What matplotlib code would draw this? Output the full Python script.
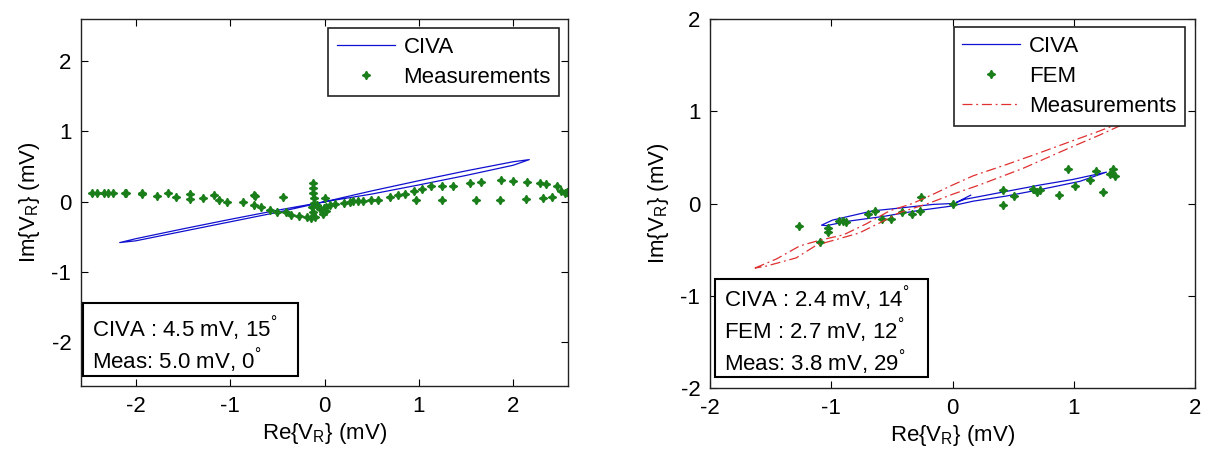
"""
两个 Lissajous 图: CIVA / FEM / 测量 的复数电压 V_R
"""
import matplotlib
matplotlib.use('Agg')
import matplotlib.pyplot as plt
from matplotlib.patches import Rectangle

plt.rcParams['font.family'] = ['Liberation Sans', 'DejaVu Sans']
plt.rcParams['mathtext.fontset'] = 'custom'
plt.rcParams['mathtext.rm'] = 'Liberation Sans'
plt.rcParams['mathtext.it'] = 'Liberation Sans:italic'
plt.rcParams['axes.unicode_minus'] = False

# ===== 数据: 左图 =====
civa1_re = [0.0, 0.5, 1.0, 1.5, 2.0, 2.17, 2.0, 1.5, 1.0, 0.5, 0.0,
            -0.5, -1.0, -1.5, -2.0, -2.17, -2.0, -1.5, -1.0, -0.5, 0.0]
civa1_im = [0.0, 0.155, 0.30, 0.44, 0.57, 0.6, 0.52, 0.375, 0.24, 0.11, 0.0,
            -0.12, -0.25, -0.385, -0.525, -0.58, -0.555, -0.42, -0.285, -0.15, 0.0]

meas1_re = [-2.46, -2.41, -2.34, -2.29, -2.24, -2.11, -2.10, -1.93, -1.93, -1.78,
            -1.66, -1.57, -1.43, -1.43, -1.29, -1.17, -1.12, -1.03, -0.86, -0.75,
            -0.75, -0.67, -0.74, -0.44, -0.58, -0.50, -0.41, -0.35, -0.27, -0.19,
            -0.14, -0.12, -0.12, -0.12, -0.11, -0.11, -0.13, -0.12, -0.10, -0.08,
            -0.05, -0.02, 0.02, -0.01, 0.0, 0.02, 0.06, 0.11, 0.21, 0.27,
            0.30, 0.35, 0.41, 0.49, 0.57, 0.69, 0.78, 0.85, 0.95, 1.03,
            1.13, 1.24, 1.36, 1.54, 1.66, 1.87, 2.00, 2.15, 2.28, 2.35,
            2.46, 2.51, 2.55, 2.57, 0.97, 1.24, 1.61, 1.86, 2.14, 2.31,
            2.41]
meas1_im = [0.13, 0.13, 0.13, 0.13, 0.12, 0.13, 0.12, 0.13, 0.11, 0.085,
            0.13, 0.066, 0.11, 0.045, 0.052, 0.10, 0.02, -0.01, 0.0, 0.10,
            -0.04, -0.07, 0.085, 0.07, -0.12, -0.15, -0.15, -0.19, -0.20, -0.21,
            -0.23, 0.27, 0.20, 0.13, 0.06, -0.02, -0.08, -0.15, -0.21, -0.05,
            -0.10, -0.18, -0.13, -0.09, 0.05, -0.07, -0.04, -0.03, -0.02, -0.01,
            0.005, 0.005, 0.005, 0.03, 0.03, 0.067, 0.095, 0.11, 0.15, 0.18,
            0.22, 0.22, 0.23, 0.27, 0.28, 0.31, 0.30, 0.28, 0.27, 0.26,
            0.23, 0.16, 0.12, 0.14, 0.03, 0.03, 0.03, 0.03, 0.04, 0.05,
            0.07]

# ===== 数据: 右图 =====
civa2_re = [0.15, 0.03, 0.10, 0.44, 0.72, 0.99, 1.27, 1.05, 0.72, 0.44, 0.17,
            -0.02, -0.30, -0.57, -0.85, -1.04, -1.08, -0.99, -0.66, -0.44, -0.16, 0.0]
civa2_im = [0.09, 0.01, 0.045, 0.13, 0.20, 0.26, 0.34, 0.24, 0.15, 0.08, 0.025,
            -0.03, -0.08, -0.14, -0.19, -0.24, -0.235, -0.18, -0.08, -0.05, -0.01, 0.0]

fem_re = [-1.27, -1.03, -1.03, -1.09, -0.94, -0.90, -0.88, -0.70, -0.64, -0.58,
          -0.51, -0.42, -0.33, -0.27, -0.26, 0.0, 0.42, 0.42, 0.51, 0.66,
          0.70, 0.72, 0.88, 0.95, 1.01, 1.13, 1.18, 1.24, 1.30, 1.32, 1.34]
fem_im = [-0.24, -0.27, -0.31, -0.42, -0.19, -0.19, -0.20, -0.11, -0.08, -0.17,
          -0.17, -0.09, -0.11, -0.08, 0.07, 0.0, 0.145, -0.02, 0.08, 0.16,
          0.12, 0.15, 0.09, 0.37, 0.195, 0.26, 0.35, 0.13, 0.325, 0.37, 0.30]

meas2_re = [-1.63, -1.45, -1.26, -1.10, -0.90, -0.71, -0.52, -0.33, -0.16, 0.0,
            0.17, 0.44, 0.72, 0.99, 1.18, 1.40, 1.58, 1.41, 1.21, 0.96,
            0.58, 0.22, 0.0, -0.20, -0.44, -0.60, -0.77, -0.93, -1.12, -1.29,
            -1.54, -1.63]
meas2_im = [-0.70, -0.60, -0.46, -0.40, -0.34, -0.22, -0.08, 0.0, 0.10, 0.20,
            0.30, 0.42, 0.55, 0.68, 0.77, 0.88, 0.97, 0.86, 0.74, 0.60,
            0.38, 0.20, 0.10, 0.0, -0.10, -0.21, -0.32, -0.38, -0.45, -0.59,
            -0.68, -0.70]

ticks = [-2, -1, 0, 1, 2]
box1_lines = ['CIVA : 4.5 mV, 15$^{\\degree}$', 'Meas: 5.0 mV, 0$^{\\degree}$']
box2_lines = ['CIVA : 2.4 mV, 14$^{\\degree}$', 'FEM : 2.7 mV, 12$^{\\degree}$',
              'Meas: 3.8 mV, 29$^{\\degree}$']

GREEN = '#1a7f1a'
STAR = (4, 1, 0)
FS = 16

fig = plt.figure(figsize=(12.1, 4.5), dpi=100)
ax1 = fig.add_axes([81 / 1210, 64 / 450, 487 / 1210, 367 / 450])
ax2 = fig.add_axes([710 / 1210, 62 / 450, 485 / 1210, 369 / 450])


def style(ax):
    ax.set_xticks(ticks)
    ax.set_yticks(ticks)
    ax.tick_params(direction='in', top=True, right=True, length=5,
                   labelsize=16, width=0.8, pad=7)
    for s in ax.spines.values():
        s.set_linewidth(1.0)
        s.set_color('#222222')
    ax.set_xlabel('Re{V$_{\\rm R}$} (mV)', fontsize=FS, labelpad=3)
    ax.set_ylabel('Im{V$_{\\rm R}$} (mV)', fontsize=FS, labelpad=7)


def info_box(ax, x0, y0, w, h, lines, ys):
    ax.add_patch(Rectangle((x0, y0), w, h, transform=ax.transAxes,
                           facecolor='white', edgecolor='black', lw=1.5,
                           zorder=5))
    for txt, y in zip(lines, ys):
        ax.text(x0 + 0.018, y, txt, transform=ax.transAxes, fontsize=FS,
                va='center', ha='left', zorder=6)


def make_legend(ax, anchor):
    leg = ax.legend(loc='upper right', bbox_to_anchor=anchor,
                    borderaxespad=0, fontsize=FS, fancybox=False, framealpha=1,
                    edgecolor='#222222', handlelength=2.6, handletextpad=0.4,
                    numpoints=1, labelspacing=0.42, borderpad=0.38)
    leg.get_frame().set_linewidth(1.2)
    leg.set_zorder(10)


# ===== 左图 =====
ax1.plot(civa1_re, civa1_im, color='#1010d0', lw=0.9, label='CIVA')
ax1.plot(meas1_re, meas1_im, ls='none', marker=STAR, ms=6, color=GREEN,
         label='Measurements')
ax1.set_xlim(-2.58, 2.58)
ax1.set_ylim(-2.62, 2.6)
style(ax1)
make_legend(ax1, (0.982, 0.975))
info_box(ax1, 0.004, 0.027, 0.442, 0.199, box1_lines, [0.158, 0.071])

# ===== 右图 =====
ax2.plot(civa2_re, civa2_im, color='#1010d0', lw=0.9, label='CIVA')
ax2.plot(fem_re, fem_im, ls='none', marker=STAR, ms=6, color=GREEN, label='FEM')
ax2.plot(meas2_re, meas2_im, color='#e03030', lw=0.9, ls=(0, (8, 3, 1.5, 3)),
         label='Measurements')
ax2.set_xlim(-2, 2)
ax2.set_ylim(-2, 2)
style(ax2)
make_legend(ax2, (0.979, 0.978))
info_box(ax2, 0.010, 0.030, 0.439, 0.265, box2_lines, [0.244, 0.157, 0.070])

fig.savefig('out.png', dpi=100)
